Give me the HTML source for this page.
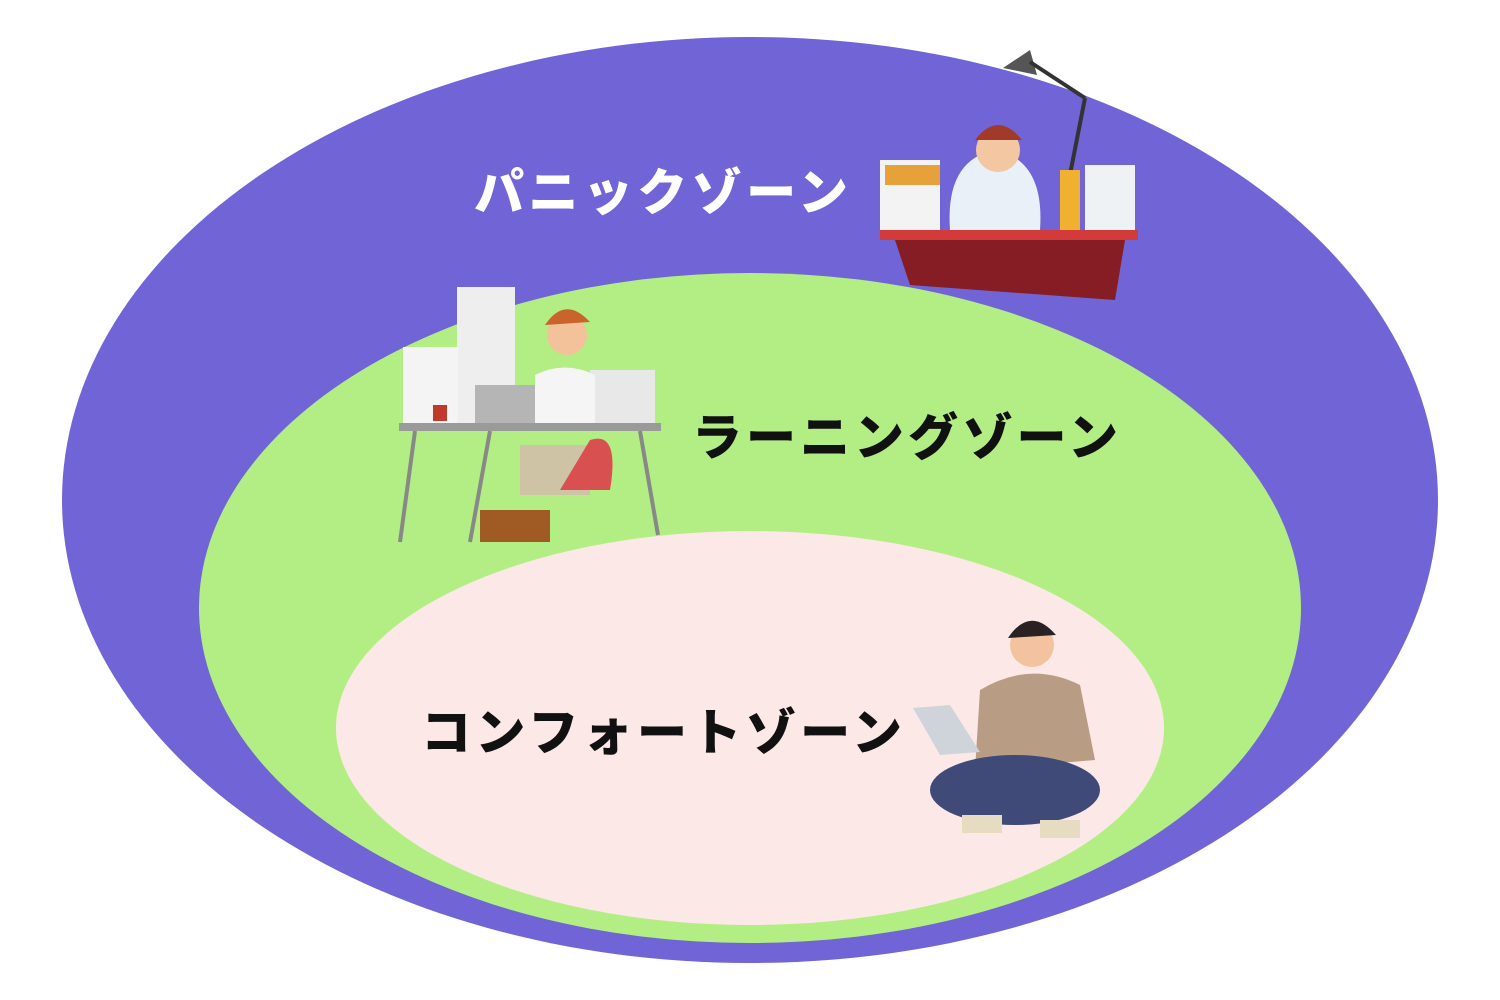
<!DOCTYPE html>
<html><head><meta charset="utf-8"><style>
html,body{margin:0;padding:0;background:#fff;}
body{width:1500px;height:1000px;position:relative;overflow:hidden;}
svg{position:absolute;left:0;top:0;}
text{font-family:"Liberation Sans","Noto Sans CJK JP",sans-serif;font-weight:900;}
</style></head><body>
<svg width="1500" height="1000" viewBox="0 0 1500 1000">
<ellipse cx="750" cy="500" rx="688" ry="463" fill="#7064d6"/>
<ellipse cx="750" cy="608" rx="551" ry="335" fill="#b3ee84"/>
<ellipse cx="750" cy="728" rx="414" ry="197" fill="#fde8e8"/>

<text x="474" y="210" font-size="50" fill="#fff" textLength="374">パニックゾーン</text>
<text x="692" y="455" font-size="50" fill="#111" textLength="426">ラーニングゾーン</text>
<text x="421" y="750" font-size="50" fill="#111" textLength="481">コンフォートゾーン</text>

<!-- panic desk -->
<g>
<polygon points="1003,68 1030,50 1037,75" fill="#555"/>
<line x1="1030" y1="62" x2="1085" y2="98" stroke="#333" stroke-width="4"/>
<line x1="1085" y1="98" x2="1065" y2="200" stroke="#333" stroke-width="4"/>
<rect x="880" y="160" width="60" height="70" fill="#f3f3f3"/>
<rect x="885" y="165" width="55" height="20" fill="#e6a13a"/>
<rect x="1085" y="165" width="50" height="65" fill="#eef2f5"/>
<rect x="1060" y="170" width="20" height="60" fill="#f0b030"/>
<path d="M950,230 Q945,160 995,150 Q1045,160 1040,230 Z" fill="#e9f0f8"/>
<circle cx="998" cy="150" r="22" fill="#f3c7a2"/>
<path d="M975,140 Q998,110 1022,140 Z" fill="#a23a2a"/>
<rect x="880" y="230" width="258" height="10" fill="#d33b3b"/>
<polygon points="895,240 1125,240 1115,300 910,285" fill="#861c24"/>
</g>

<!-- learning desk -->
<g>
<rect x="457" y="287" width="58" height="138" fill="#eeeeee"/>
<rect x="403" y="347" width="55" height="78" fill="#f4f4f4"/>
<rect x="433" y="405" width="14" height="16" fill="#c0392b"/>
<rect x="590" y="370" width="65" height="55" fill="#e8e8e8"/>
<path d="M535,430 L535,375 Q565,360 595,375 L595,430 Z" fill="#f5f5f5"/>
<circle cx="567" cy="335" r="20" fill="#f3c29a"/>
<path d="M545,325 Q565,295 590,322 Z" fill="#c8642c"/>
<rect x="475" y="385" width="60" height="40" fill="#b5b5b5"/>
<rect x="399" y="423" width="262" height="8" fill="#9a9a9a"/>
<line x1="415" y1="431" x2="400" y2="542" stroke="#888" stroke-width="4"/>
<line x1="490" y1="431" x2="470" y2="542" stroke="#888" stroke-width="4"/>
<line x1="640" y1="431" x2="658" y2="535" stroke="#888" stroke-width="4"/>
<rect x="520" y="445" width="70" height="50" fill="#cfc3a6"/>
<rect x="480" y="510" width="70" height="32" fill="#a05a24"/>
<path d="M590,440 Q620,430 610,490 L560,490 Z" fill="#d85050"/>
</g>

<!-- comfort person -->
<g>
<circle cx="1032" cy="645" r="22" fill="#f2c39e"/>
<path d="M1008,638 Q1030,605 1056,635 Z" fill="#2a2222"/>
<path d="M975,770 L980,690 Q1030,660 1080,685 L1095,760 Z" fill="#b99c84"/>
<polygon points="913,708 950,705 980,752 940,755" fill="#cfd4da"/>
<ellipse cx="1015" cy="790" rx="85" ry="35" fill="#3f4a78"/>
<rect x="962" y="815" width="40" height="18" fill="#e6dcc2"/>
<rect x="1040" y="820" width="40" height="18" fill="#e6dcc2"/>
</g>
</svg>
</body></html>
